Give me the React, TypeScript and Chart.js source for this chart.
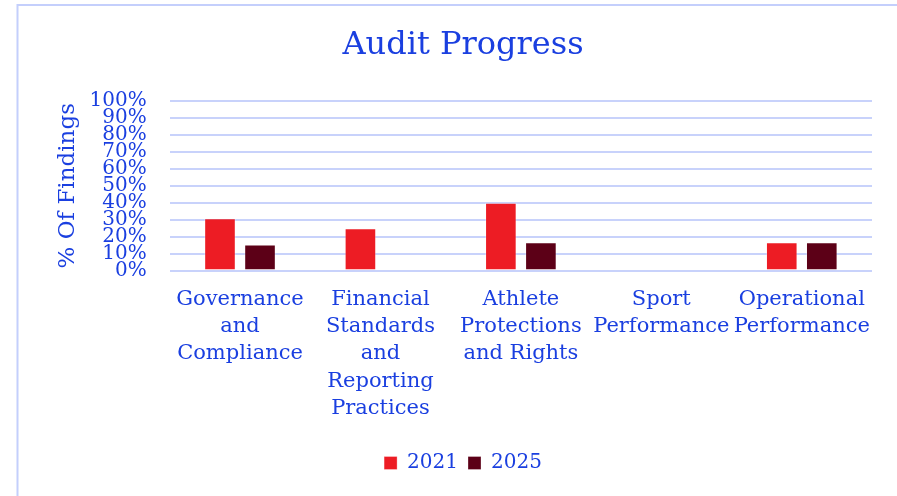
import React, { useEffect, useRef } from "react";
import { Chart, registerables } from "chart.js";

Chart.register(...registerables);

const categories: string[][] = [
  ["Governance", "and", "Compliance"],
  ["Financial", "Standards", "and", "Reporting", "Practices"],
  ["Athlete", "Protections", "and Rights"],
  ["Sport", "Performance"],
  ["Operational", "Performance"],
];
const series2021: (number | null)[] = [30.8, 25, 40, null, 16.7];
const series2025: (number | null)[] = [15.4, null, 16.7, null, 16.7];
const seriesNames = ["2021", "2025"];
const chartTitle = "Audit Progress";
const yAxisTitle = "% Of Findings";

const FONT = "'DejaVu Serif', serif";
const BLUE = "#1a3fe0";

const framePlugin = {
  id: "frame",
  beforeDraw(chart: any) {
    const ctx = chart.ctx;
    ctx.save();
    ctx.fillStyle = "#ffffff";
    ctx.fillRect(0, 0, chart.width, chart.height);
    ctx.strokeStyle = "#c4cffc";
    ctx.lineWidth = 2;
    ctx.strokeRect(17.5, 5, chart.width + 20, chart.height + 20);
    ctx.restore();
  },
};

export default function App() {
  const ref = useRef<HTMLCanvasElement>(null);
  useEffect(() => {
    if (!ref.current) return;
    const chart = new Chart(ref.current, {
      type: "bar",
      data: {
        labels: categories,
        datasets: [
          {
            label: seriesNames[0],
            data: series2021,
            backgroundColor: "#ed1c24",
            borderColor: "rgba(255,255,255,0.3)",
            borderWidth: 1,
            categoryPercentage: 0.57,
            barPercentage: 0.79,
          },
          {
            label: seriesNames[1],
            data: series2025,
            backgroundColor: "#5c0017",
            borderColor: "rgba(255,255,255,0.3)",
            borderWidth: 1,
            categoryPercentage: 0.57,
            barPercentage: 0.79,
          },
        ],
      },
      options: {
        responsive: false,
        animation: false,
        layout: { padding: { left: 54, right: 25, top: 0, bottom: 13 } },
        plugins: {
          title: {
            display: true,
            text: chartTitle,
            color: BLUE,
            font: { family: FONT, size: 32, weight: "normal" },
            padding: { top: 26.8, bottom: 35.8 },
          },
          legend: {
            position: "bottom",
            labels: {
              color: BLUE,
              font: { family: FONT, size: 20 },
              boxWidth: 13,
              boxHeight: 13,
              padding: 10,
            },
          },
          tooltip: { enabled: false },
        },
        scales: {
          x: {
            grid: { display: false, drawTicks: false },
            border: { display: false },
            ticks: {
              color: BLUE,
              font: { family: FONT, size: 21, lineHeight: 1.3 },
              padding: 15,
              maxRotation: 0,
              minRotation: 0,
              autoSkip: false,
            },
            afterFit(scale: any) {
              scale.height += 6;
            },
          },
          y: {
            min: 0,
            max: 100,
            grid: { color: "#c8d2fb", lineWidth: 2, drawTicks: false },
            border: { display: false },
            ticks: {
              stepSize: 10,
              autoSkip: false,
              color: BLUE,
              font: { family: FONT, size: 20 },
              padding: 23,
              callback: (v: any) => v + "%",
            },
            title: {
              display: true,
              text: yAxisTitle,
              color: BLUE,
              font: { family: FONT, size: 23 },
              padding: { top: 0, bottom: 7 },
            },
            afterFit(scale: any) {
              scale.width -= 22;
            },
          },
        },
      },
      plugins: [framePlugin],
    });
    return () => chart.destroy();
  }, []);
  return (
    <div style={{ position: "absolute", left: 0, top: 0, width: 897, height: 496 }}>
      <canvas ref={ref} width={897} height={496} />
    </div>
  );
}
